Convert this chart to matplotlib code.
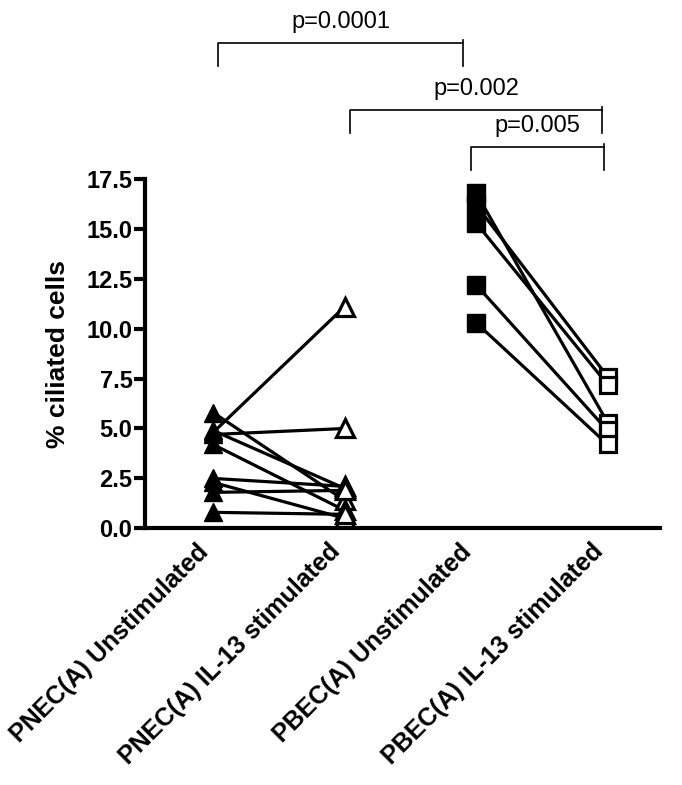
import matplotlib
matplotlib.use("Agg")
import matplotlib.pyplot as plt
import matplotlib.transforms as mtransforms

plt.rcParams["font.family"] = ["Liberation Sans", "DejaVu Sans"]

# ── data ──────────────────────────────────────────────────────
groups = ["PNEC(A) Unstimulated", "PNEC(A) IL-13 stimulated",
          "PBEC(A) Unstimulated", "PBEC(A) IL-13 stimulated"]

pnec_unstim = [5.8, 4.8, 4.7, 4.9, 4.2, 2.5, 2.3, 1.8, 0.8]
pnec_il13   = [1.4, 11.1, 5.0, 2.0, 0.9, 2.1, 0.5, 1.9, 0.7]

pbec_unstim = [16.8, 16.2, 15.3, 12.2, 10.3]
pbec_il13   = [5.3, 7.6, 7.2, 4.9, 4.2]

yticks = [0.0, 2.5, 5.0, 7.5, 10.0, 12.5, 15.0, 17.5]

# significance brackets: (left, right, label)
brackets = [
    (0.04, 1.90, "p=0.0001"),
    (1.04, 2.96, "p=0.002"),
    (1.96, 2.97, "p=0.005"),
]
bracket_y = [24.3, 20.95, 19.1]

# ── figure ────────────────────────────────────────────────────
fig = plt.figure(figsize=(6.82, 7.85), dpi=100)
ax = fig.add_axes([0.2126, 0.327, 0.7554, 0.445])

LW = 2.3
for a, b in zip(pnec_unstim, pnec_il13):
    ax.plot([0, 1], [a, b], color="black", lw=LW, zorder=2)
for a, b in zip(pbec_unstim, pbec_il13):
    ax.plot([2, 3], [a, b], color="black", lw=LW, zorder=2)

ax.plot([0] * len(pnec_unstim), pnec_unstim, "^", ms=13, color="black",
        ls="none", zorder=3)
ax.plot([1] * len(pnec_il13), pnec_il13, "^", ms=13, mfc="white", mec="black",
        mew=2.3, ls="none", zorder=3)
ax.plot([2] * len(pbec_unstim), pbec_unstim, "s", ms=13, color="black",
        ls="none", zorder=3)
ax.plot([3] * len(pbec_il13), pbec_il13, "s", ms=12, mfc="white", mec="black",
        mew=2.3, ls="none", zorder=3)

ax.set_xlim(-0.518, 3.40)
ax.set_ylim(0, 17.5)
ax.set_yticks(yticks)
ax.set_yticklabels([f"{t:.1f}" for t in yticks], fontsize=17, fontweight="bold")
ax.set_xticks(range(len(groups)))
ax.set_xticklabels(groups, rotation=45, ha="right", rotation_mode="default",
                   fontsize=18, fontweight="bold")
shift = mtransforms.ScaledTranslation(0.06, 0, fig.dpi_scale_trans)
for lab in ax.get_xticklabels():
    lab.set_transform(lab.get_transform() + shift)
ax.tick_params(axis="x", length=0, pad=8)
ax.tick_params(axis="y", length=8, width=3, pad=1)
ax.set_ylabel("% ciliated cells", fontsize=19, fontweight="bold", labelpad=12)

for s in ["top", "right"]:
    ax.spines[s].set_visible(False)
for s in ["left", "bottom"]:
    ax.spines[s].set_linewidth(3)

# ── brackets ──────────────────────────────────────────────────
for (x0, x1, label), y in zip(brackets, bracket_y):
    drop = 1.15
    ax.plot([x0, x0, x1, x1], [y - drop, y, y, y - drop], color="black",
            lw=1.2, clip_on=False)
    ax.plot([x1, x1], [y, y + 0.15], color="black", lw=1.2, clip_on=False)
    ax.text((x0 + x1) / 2, y + 0.5, label, ha="center", va="bottom",
            fontsize=17, clip_on=False)

fig.savefig("out.png", dpi=100)
